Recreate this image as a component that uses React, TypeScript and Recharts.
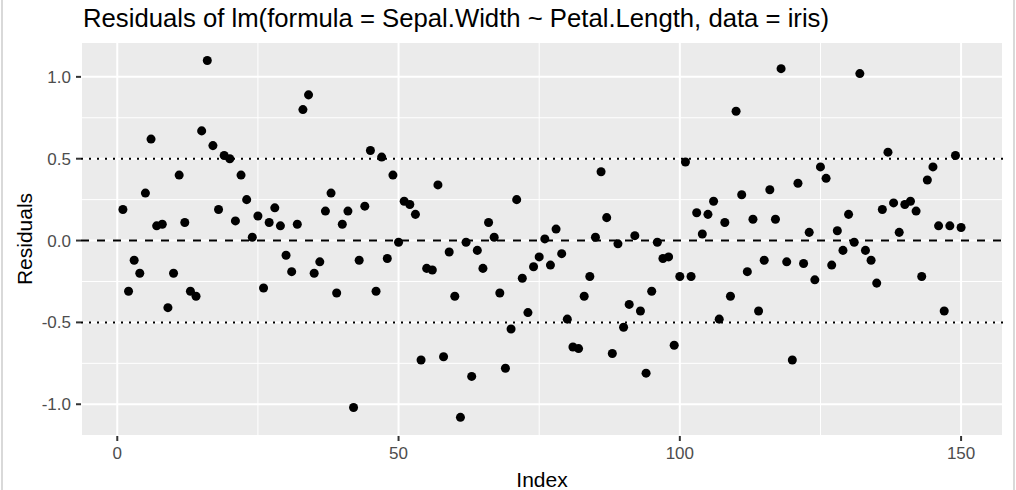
import React from 'react';
import {
  ScatterChart,
  Scatter,
  XAxis,
  YAxis,
  ZAxis,
  CartesianGrid,
  ReferenceLine
} from 'recharts';

// residuals of lm(Sepal.Width ~ Petal.Length), observations 1..150
const residuals: number[] = [
  0.19, -0.31, -0.12, -0.20, 0.29, 0.62, 0.09, 0.10, -0.41, -0.20,
  0.40, 0.11, -0.31, -0.34, 0.67, 1.10, 0.58, 0.19, 0.52, 0.50,
  0.12, 0.40, 0.25, 0.02, 0.15, -0.29, 0.11, 0.20, 0.09, -0.09,
  -0.19, 0.10, 0.80, 0.89, -0.20, -0.13, 0.18, 0.29, -0.32, 0.10,
  0.18, -1.02, -0.12, 0.21, 0.55, -0.31, 0.51, -0.11, 0.40, -0.01,
  0.24, 0.22, 0.16, -0.73, -0.17, -0.18, 0.34, -0.71, -0.07, -0.34,
  -1.08, -0.01, -0.83, -0.06, -0.17, 0.11, 0.02, -0.32, -0.78, -0.54,
  0.25, -0.23, -0.44, -0.16, -0.10, 0.01, -0.15, 0.07, -0.08, -0.48,
  -0.65, -0.66, -0.34, -0.22, 0.02, 0.42, 0.14, -0.69, -0.02, -0.53,
  -0.39, 0.03, -0.43, -0.81, -0.31, -0.01, -0.11, -0.10, -0.64, -0.22,
  0.48, -0.22, 0.17, 0.04, 0.16, 0.24, -0.48, 0.11, -0.34, 0.79,
  0.28, -0.19, 0.13, -0.43, -0.12, 0.31, 0.13, 1.05, -0.13, -0.73,
  0.35, -0.14, 0.05, -0.24, 0.45, 0.38, -0.15, 0.06, -0.06, 0.16,
  -0.01, 1.02, -0.06, -0.12, -0.26, 0.19, 0.54, 0.23, 0.05, 0.22,
  0.24, 0.18, -0.22, 0.37, 0.45, 0.09, -0.43, 0.09, 0.52, 0.08
];

const xTicks = [0, 50, 100, 150];
const yTicks = [-1, -0.5, 0, 0.5, 1];
const xMinor = [25, 75, 125];
const yMinor = [-0.75, -0.25, 0.25, 0.75];

const data = residuals.map((r, i) => ({ index: i + 1, resid: r }));

const tickStyle = { fill: '#4D4D4D', fontSize: 17 };

export default function App() {
  return (
    <div
      style={{
        position: 'absolute',
        left: 0,
        top: 0,
        width: 1016,
        height: 490,
        background: '#fff',
        fontFamily: '"Liberation Sans", Arial, sans-serif',
        overflow: 'hidden'
      }}
    >
      {/* viewer frame */}
      <div style={{ position: 'absolute', left: 1, top: 0, width: 2, height: 490, background: '#D9D9D9' }} />
      <div style={{ position: 'absolute', left: 1013, top: 0, width: 2, height: 490, background: '#D9D9D9' }} />

      <div style={{ position: 'absolute', left: 83, top: 4, fontSize: 25.7, color: '#000', whiteSpace: 'nowrap' }}>
        Residuals of lm(formula = Sepal.Width ~ Petal.Length, data = iris)
      </div>

      <ScatterChart
        width={1016}
        height={490}
        margin={{ top: 42, right: 13, bottom: 0, left: 0 }}
        style={{ position: 'absolute', left: 0, top: 0 }}
      >
        <CartesianGrid fill="#EBEBEB" stroke="#FFFFFF" strokeWidth={2} />
        {xMinor.map((v) => (
          <ReferenceLine key={'xm' + v} x={v} stroke="#FFFFFF" strokeWidth={1} />
        ))}
        {yMinor.map((v) => (
          <ReferenceLine key={'ym' + v} y={v} stroke="#FFFFFF" strokeWidth={1} />
        ))}
        <XAxis
          type="number"
          dataKey="index"
          domain={[-6.45, 157.45]}
          ticks={xTicks}
          allowDataOverflow
          height={54}
          axisLine={false}
          tickLine={{ stroke: '#333333', strokeWidth: 2 }}
          tickSize={5}
          tickMargin={6}
          tick={tickStyle}
          label={{ value: 'Index', position: 'insideBottom', offset: 3, fill: '#000', fontSize: 21 }}
        />
        <YAxis
          type="number"
          dataKey="resid"
          domain={[-1.194, 1.213]}
          ticks={yTicks}
          allowDataOverflow
          width={81}
          axisLine={false}
          tickLine={{ stroke: '#333333', strokeWidth: 2 }}
          tickSize={5}
          tickMargin={5}
          tick={tickStyle}
          tickFormatter={(v: number) => v.toFixed(1)}
          label={{ value: 'Residuals', position: 'center', angle: -90, dx: -16, fill: '#000', fontSize: 21 }}
        />
        <ZAxis range={[46, 46]} />
        <ReferenceLine y={0.5} stroke="#000" strokeWidth={2} strokeDasharray="2 6" />
        <ReferenceLine y={-0.5} stroke="#000" strokeWidth={2} strokeDasharray="2 6" />
        <ReferenceLine y={0} stroke="#000" strokeWidth={2} strokeDasharray="8 8" />
        <Scatter data={data} fill="#000000" shape="circle" isAnimationActive={false} />
      </ScatterChart>
    </div>
  );
}
